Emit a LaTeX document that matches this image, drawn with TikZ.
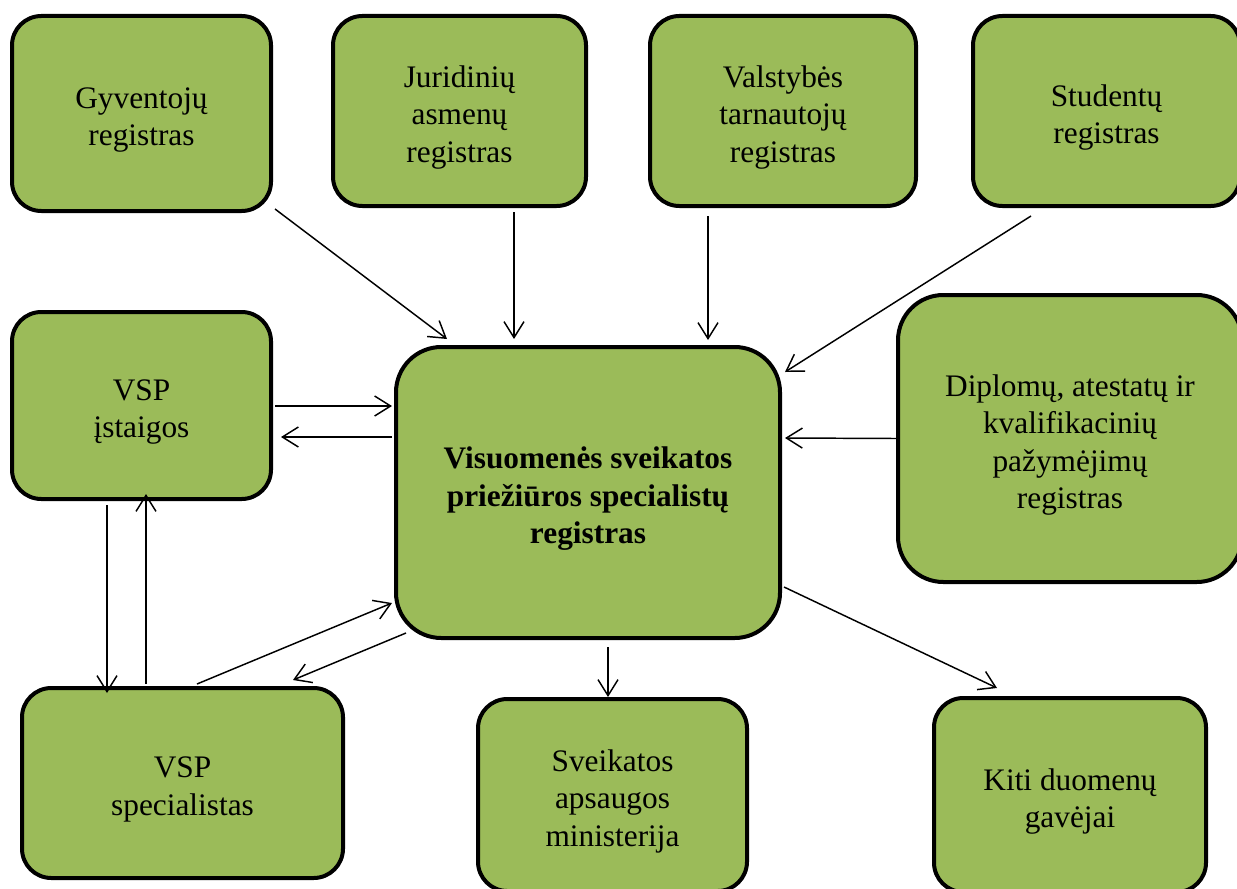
\documentclass[tikz,border=0pt]{standalone}
\usepackage{fontspec}
\setmainfont{Liberation Serif}
\usetikzlibrary{arrows.meta,calc}
\definecolor{vgreen}{RGB}{155,187,89}
\tikzset{
  box/.style={draw=black, line width=3pt, fill=vgreen, rounded corners=22pt, inner sep=0pt},
  bigbox/.style={box, rounded corners=34pt},
  txt/.style={align=center, inner sep=0pt, yshift=-4.8pt, font=\fontsize{23.5}{28}\selectfont},
  arr/.style={line width=1.1pt, -{Straight Barb[length=12pt,width=15pt,line width=1.1pt]}}
}
\begin{document}
\begin{tikzpicture}[x=0.75pt,y=-0.75pt]
\useasboundingbox (0,0) rectangle (1237,888);
\clip (0,0) rectangle (1237,888);
\node[box, minimum width=259*0.75pt, minimum height=195*0.75pt, label={[txt]center:{Gyventojų\\registras}}] (g) at (141.5,113.5) {};
\node[box, minimum width=253*0.75pt, minimum height=190*0.75pt, label={[txt]center:{Juridinių\\asmenų\\registras}}] (j) at (459.5,111) {};
\node[box, minimum width=266*0.75pt, minimum height=190*0.75pt, label={[txt]center:{Valstybės\\tarnautojų\\registras}}] (v) at (783,111) {};
\node[box, minimum width=267*0.75pt, minimum height=190*0.75pt, label={[txt]center:{Studentų\\registras}}] (s) at (1106.5,111) {};
\node[box, minimum width=259*0.75pt, minimum height=187*0.75pt, label={[txt]center:{VSP\\įstaigos}}] (i) at (141.5,405.5) {};
\node[bigbox, minimum width=384*0.75pt, minimum height=291*0.75pt, label={[txt,font=\fontsize{23.5}{28}\selectfont\bfseries]center:{Visuomenės sveikatos\\priežiūros specialistų\\registras}}] (c) at (588,492.5) {};
\node[bigbox, minimum width=344*0.75pt, minimum height=287*0.75pt, label={[txt]center:{Diplomų, atestatų ir\\kvalifikacinių\\pažymėjimų\\registras}}] (d) at (1070,438.5) {};
\node[box, minimum width=321*0.75pt, minimum height=190*0.75pt, label={[txt]center:{VSP\\specialistas}}] (vs) at (182.5,783) {};
\node[box, minimum width=269*0.75pt, minimum height=192*0.75pt, label={[txt]center:{Sveikatos\\apsaugos\\ministerija}}] (m) at (612.5,795) {};
\node[box, minimum width=272*0.75pt, minimum height=194*0.75pt, label={[txt]center:{Kiti duomenų\\gavėjai}}] (k) at (1070,795) {};

\draw[arr] ($(g.south east)+(2,-4)$) -- ($(c.north west)+(53,-6)$);
\draw[arr] ($(j.south)+(54.5,4)$) -- ($(c.north)+(-74,-6)$);
\draw[arr] ($(v.south)+(-75,8)$) -- ($(c.north)+(120,-5)$);
\draw[arr] ($(s.south)+(-75.5,8)$) -- ($(c.north east)+(3,27)$);
\draw[arr] (d.west) -- ($(c.east)+(3,-54.5)$);
\draw[arr] ($(i.east)+(2,0.5)$) -- ($(c.west)+(-2,-86.5)$);
\draw[arr] ($(c.west)+(-2,-55.5)$) -- ($(i.east)+(8,31.5)$);
\draw[arr] ($(i.south)+(-34.5,4)$) -- ($(vs.north)+(-75.5,7)$);
\draw[arr] ($(vs.north)+(-36.5,-2)$) -- ($(i.south)+(4.5,-7)$);
\draw[arr] ($(vs.north)+(14.5,-2)$) -- ($(c.south west)+(-2,-37)$);
\draw[arr] ($(c.south west)+(12,-7)$) -- ($(vs.north)+(110.5,-6)$);
\draw[arr] ($(c.south)+(20,7)$) -- ($(m.north)+(-4.5,0)$);
\draw[arr] ($(c.south east)+(2,-53)$) -- ($(k.north)+(-73,-8)$);
\end{tikzpicture}
\end{document}
